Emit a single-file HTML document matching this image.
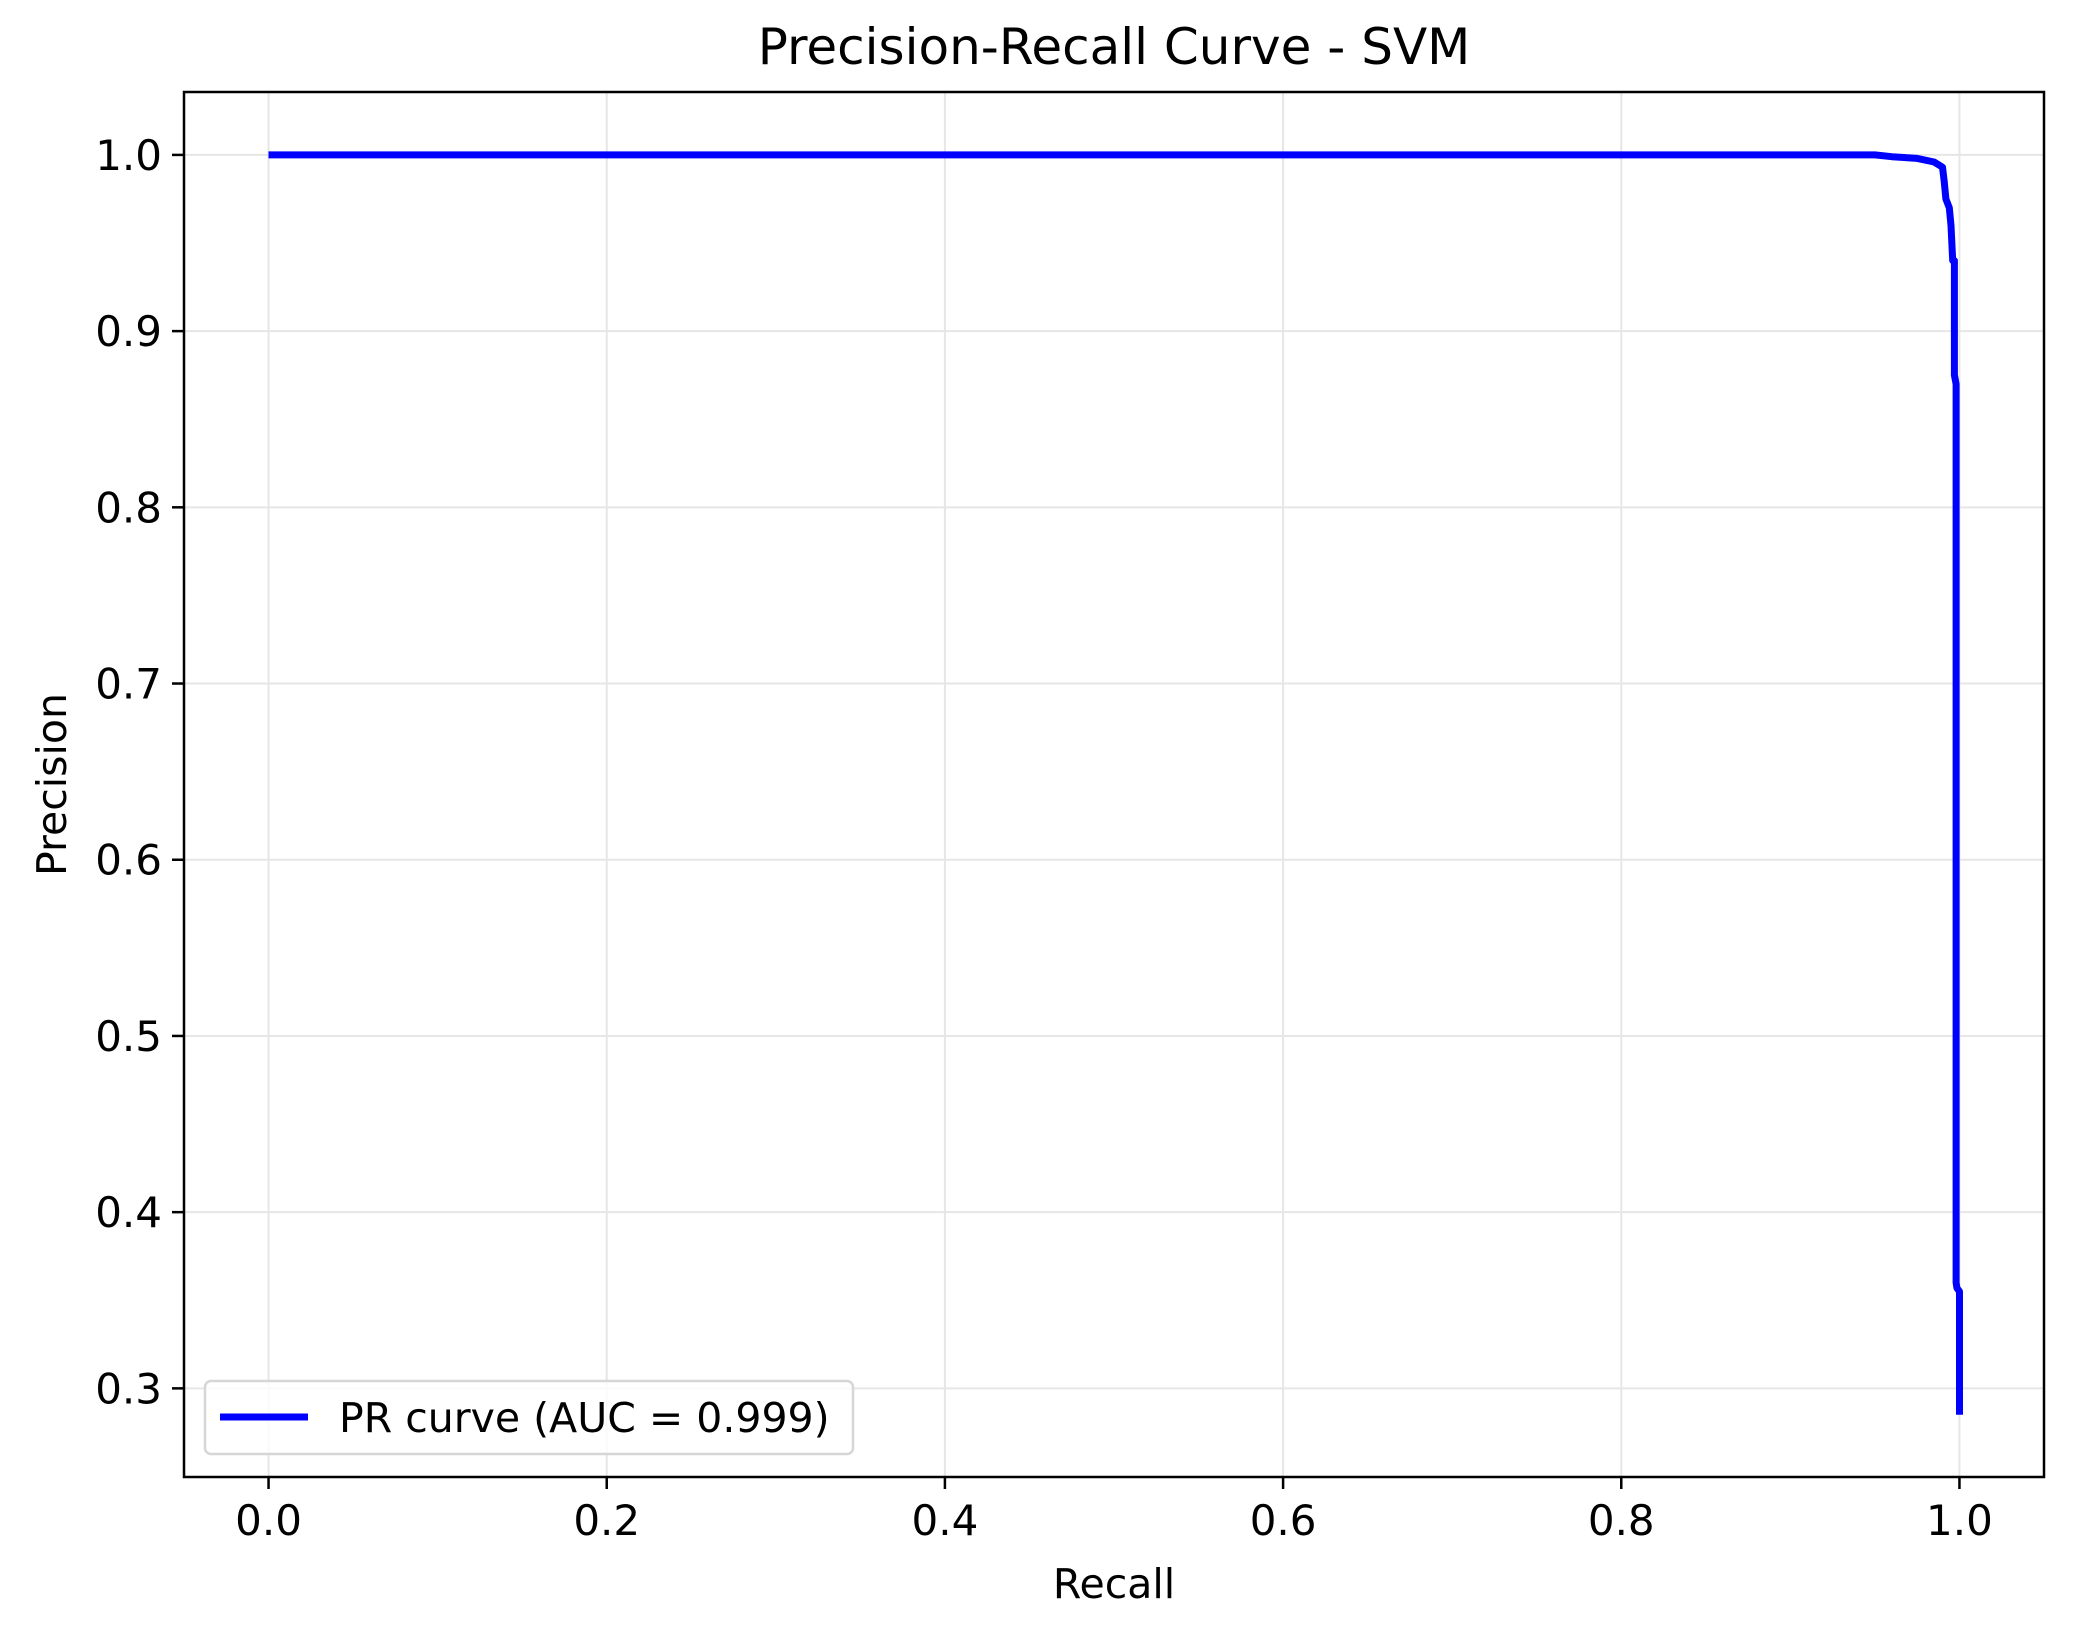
<!DOCTYPE html>
<html><head><meta charset="utf-8"><style>
html,body{margin:0;padding:0;background:#fff;}
svg{display:block;font-family:"DejaVu Sans","Liberation Sans",sans-serif;}
</style></head><body>
<svg id="chart" width="2074" height="1638" viewBox="0 0 2074 1638" xmlns="http://www.w3.org/2000/svg"></svg>
<script>
const recall = [0, 0.90, 0.95, 0.96, 0.975, 0.985, 0.99, 0.991, 0.992, 0.994, 0.995, 0.996, 0.997, 0.997, 0.998, 0.998, 0.9985, 1.0, 1.0];
const precision = [1.0, 1.0, 1.0, 0.999, 0.998, 0.996, 0.993, 0.985, 0.975, 0.97, 0.96, 0.94, 0.94, 0.875, 0.87, 0.36, 0.357, 0.355, 0.285];
const xTicks = [0.0, 0.2, 0.4, 0.6, 0.8, 1.0];
const yTicks = [0.3, 0.4, 0.5, 0.6, 0.7, 0.8, 0.9, 1.0];
const legendLabel = "PR curve (AUC = 0.999)";

const svg = document.getElementById('chart');
const NS = 'http://www.w3.org/2000/svg';
const L = 184, R = 2044, T = 92, B = 1477;
const xMin = -0.05, xMax = 1.05, yMin = 0.2497, yMax = 1.0357;
const xs = v => L + (v - xMin) / (xMax - xMin) * (R - L);
const ys = v => B - (v - yMin) / (yMax - yMin) * (B - T);
function mk(tag, attrs, parent) {
  const e = document.createElementNS(NS, tag);
  for (const k in attrs) e.setAttribute(k, attrs[k]);
  (parent || svg).appendChild(e);
  return e;
}
const grid = mk('g', {});


xTicks.forEach(t => {
  const l = mk('line', {x1: xs(t), x2: xs(t), y1: T, y2: B, stroke: '#e6e6e6', 'stroke-width': 2}, grid);
  
  
  const tk = mk('line', {x1: xs(t), x2: xs(t), y1: B, y2: B + 12, stroke: '#000', 'stroke-width': 2.5});
  
  
  const tx = mk('text', {x: xs(t), y: B + 58, 'font-size': 42, 'text-anchor': 'middle', fill: '#000'});
  tx.textContent = t.toFixed(1);
  
  
});
yTicks.forEach(t => {
  const l = mk('line', {x1: L, x2: R, y1: ys(t), y2: ys(t), stroke: '#e6e6e6', 'stroke-width': 2}, grid);
  
  
  const tk = mk('line', {x1: L - 12, x2: L, y1: ys(t), y2: ys(t), stroke: '#000', 'stroke-width': 2.5});
  
  
  const tx = mk('text', {x: L - 22, y: ys(t) + 15, 'font-size': 42, 'text-anchor': 'end', fill: '#000'});
  tx.textContent = t.toFixed(1);
  
  
});
const pts = recall.map((r, i) => xs(r).toFixed(1) + ',' + ys(precision[i]).toFixed(1)).join(' ');
const curve = mk('polyline', {points: pts, fill: 'none', stroke: '#0000ff', 'stroke-width': 7, 'stroke-linejoin': 'round'});


const frame = mk('rect', {x: L, y: T, width: R - L, height: B - T, fill: 'none', stroke: '#000', 'stroke-width': 2.5});


const title = mk('text', {x: (L + R) / 2, y: 64, 'font-size': 50, 'text-anchor': 'middle', fill: '#000'});
title.textContent = 'Precision-Recall Curve - SVM';


const xl = mk('text', {x: (L + R) / 2, y: 1598, 'font-size': 41, 'text-anchor': 'middle', fill: '#000'});
xl.textContent = 'Recall';


const yl = mk('text', {x: 0, y: 0, 'font-size': 41, 'text-anchor': 'middle', fill: '#000', transform: 'translate(66,' + ((T + B) / 2) + ') rotate(-90)'});
yl.textContent = 'Precision';


const lg = mk('g', {});


const lb = mk('rect', {x: 205, y: 1381, width: 648, height: 73, rx: 6, fill: '#fff', 'fill-opacity': 0.8, stroke: '#d6d6d6', 'stroke-width': 2.5}, lg);


const ll = mk('line', {x1: 220, x2: 308, y1: 1417, y2: 1417, stroke: '#0000ff', 'stroke-width': 7}, lg);


const lt = mk('text', {x: 339, y: 1432, 'font-size': 41, fill: '#000'}, lg);
lt.textContent = legendLabel;


</script>
</body></html>
